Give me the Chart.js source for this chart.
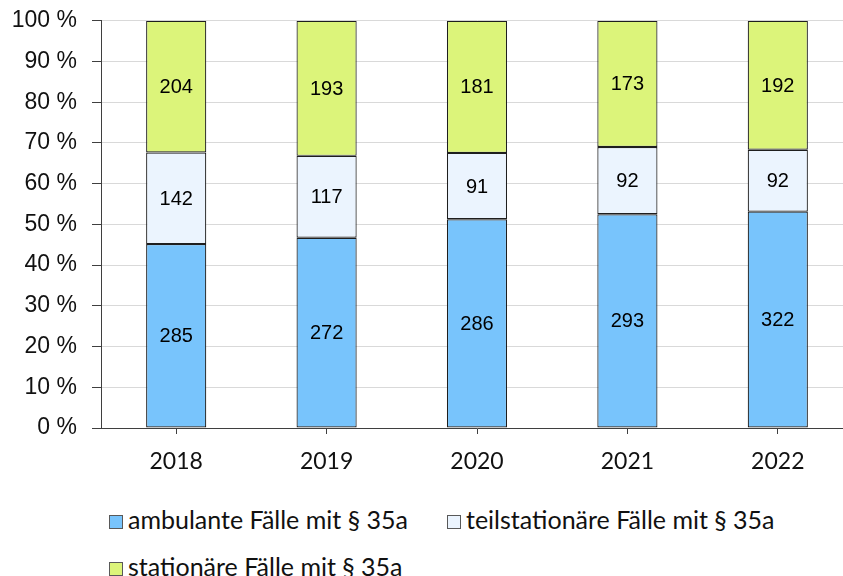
<!DOCTYPE html>
<html>
<head>
<meta charset="utf-8">
<script src="https://cdn.jsdelivr.net/npm/chart.js@4"></script>
<style>
  html, body { margin: 0; padding: 0; background: #fff; overflow: hidden; }
  #wrap { position: relative; width: 843px; height: 576px; overflow: hidden; }
  #chart { position: absolute; left: 0; top: -8px; }
  .lg { position: absolute; font-family: Lato, "Open Sans", sans-serif; font-size: 25px; color: #111;
        white-space: nowrap; line-height: 26px; }
  .lg i { display: inline-block; width: 12px; height: 12px; border: 1px solid #595959;
          margin-right: 5px; vertical-align: 0px; }
</style>
</head>
<body>
<div id="wrap">
  <canvas id="chart" width="853" height="498"></canvas>
  <div id="legend"></div>
</div>
<script>
var years = ['2018', '2019', '2020', '2021', '2022'];
var ambulant = [285, 272, 286, 293, 322];
var teilstationaer = [142, 117, 91, 92, 92];
var stationaer = [204, 193, 181, 173, 192];
var yTicks = [0, 10, 20, 30, 40, 50, 60, 70, 80, 90, 100];

var series = [
    { label: 'ambulante Fälle mit § 35a', counts: ambulant, color: '#78C4FC' },
    { label: 'teilstationäre Fälle mit § 35a', counts: teilstationaer, color: '#EBF4FE' },
    { label: 'stationäre Fälle mit § 35a', counts: stationaer, color: '#DCF47A' }
];

// yearly totals, bars are drawn as share of the total
var totals = years.map(function (y, i) {
    return ambulant[i] + teilstationaer[i] + stationaer[i];
});

// writes the case count in the middle of each segment
var countLabels = {
    id: 'countLabels',
    afterDatasetsDraw: function (chart) {
        var ctx = chart.ctx;
        ctx.save();
        ctx.font = '20px "Liberation Sans", Arial, sans-serif';
        ctx.fillStyle = '#000';
        ctx.textAlign = 'center';
        ctx.textBaseline = 'middle';
        chart.data.datasets.forEach(function (ds, di) {
            chart.getDatasetMeta(di).data.forEach(function (bar, i) {
                var mid = (bar.y + bar.base) / 2;
                ctx.fillText(ds.counts[i], bar.x, mid + 1);
            });
        });
        ctx.restore();
    }
};

var data = {
    labels: years,
    datasets: series.map(function (s) {
        return {
            label: s.label,
            counts: s.counts,
            data: s.counts.map(function (v, i) { return v / totals[i] * 100; }),
            backgroundColor: s.color,
            borderColor: '#1e1e1e',
            borderWidth: 1.2,
            borderSkipped: false,
            barPercentage: 0.4,
            categoryPercentage: 1
        };
    })
};

new Chart(document.getElementById('chart'), {
    type: 'bar',
    data: data,
    plugins: [countLabels],
    options: {
        responsive: false,
        animation: false,
        layout: { padding: { top: 12, right: 0, bottom: 0, left: 0 } },
        plugins: { legend: { display: false }, tooltip: { enabled: false } },
        scales: {
            x: {
                stacked: true,
                afterFit: function (scale) { scale.height = 62; },
                grid: { drawOnChartArea: false, tickLength: 6, tickColor: '#3f3f3f', offset: false },
                border: { color: '#3f3f3f', width: 1 },
                ticks: {
                    padding: 14,
                    color: '#111',
                    font: { family: 'Lato, "Open Sans", sans-serif', size: 23 }
                }
            },
            y: {
                stacked: true,
                min: 0,
                max: 100,
                afterFit: function (scale) { scale.width = 101; },
                afterBuildTicks: function (scale) {
                    scale.ticks = yTicks.map(function (v) { return { value: v }; });
                },
                grid: { color: '#d9d9d9', tickColor: '#3f3f3f', tickLength: 9 },
                border: { color: '#3f3f3f', width: 1 },
                ticks: {
                    padding: 15,
                    color: '#111',
                    font: { family: '"Liberation Sans", Arial, sans-serif', size: 23 },
                    callback: function (v) { return v + ' %'; }
                }
            }
        }
    }
});

// legend rows below the plot
var legendPos = [[109, 506], [447, 506], [109, 553]];
var legend = document.getElementById('legend');
series.forEach(function (s, i) {
    var d = document.createElement('div');
    d.className = 'lg';
    d.style.left = legendPos[i][0] + 'px';
    d.style.top = legendPos[i][1] + 'px';
    d.innerHTML = '<i style="background:' + s.color + '"></i>' + s.label;
    legend.appendChild(d);
});
</script>
</body>
</html>
